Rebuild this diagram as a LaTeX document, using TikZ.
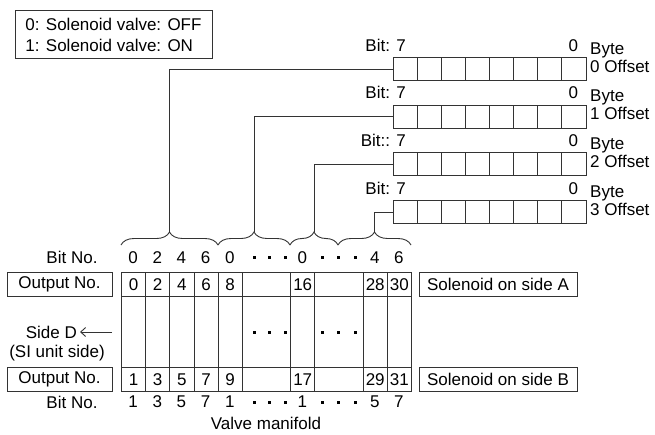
\documentclass[tikz,border=0pt]{standalone}
\usepackage{fontspec}
\setmainfont{Liberation Sans}
\usetikzlibrary{decorations.pathreplacing,arrows.meta}
\begin{document}
\begin{tikzpicture}[x=1pt,y=-1pt,
  font=\fontsize{17}{21}\selectfont,
  ln/.style={draw=black!80, line width=0.9pt},
  cell/.style={ln, minimum width=24.125pt, minimum height=23pt, inner sep=0pt, anchor=north west},
  gcell/.style={ln, minimum width=24.167pt, minimum height=24pt, inner sep=0pt, anchor=north west},
  txt/.style={inner sep=0pt},
  btxt/.style={inner sep=0pt, anchor=base},
  lbox/.style={ln, inner sep=0pt, minimum height=24pt},
  dotsq/.style={fill=black, minimum size=3pt, inner sep=0pt},
  brc/.style={ln, decorate, decoration={brace, amplitude=13pt}},
]
\useasboundingbox (0,0) rectangle (655,434);

% legend
\node[ln, minimum width=197pt, minimum height=48pt, align=left, inner sep=0pt] (legend) at (113.5,34.5)
  {0: Solenoid valve: OFF\\1: Solenoid valve: ON};

% byte registers
\foreach \k in {0,...,3} {
  \pgfmathsetmacro\yt{57+47.7*\k}
  \foreach \c in {0,...,7} {
    \node[cell] (r\k c\c) at ({392.5+24.125*\c},\yt) {};
  }
  \ifnum\k=2
    \node[btxt, anchor=base east] (bit\k) at (406,\yt-6) {Bit:: 7};
  \else
    \node[btxt, anchor=base east] (bit\k) at (406,\yt-6) {Bit: 7};
  \fi
  \node[btxt] (zero\k) at (573.4,\yt-6) {0};
  \node[btxt, anchor=base west] (byte\k) at (590,\yt-3) {Byte};
  \node[btxt, anchor=base west] (off\k) at (590,\yt+15) {\k\ Offset};
}

% brace ends and tips
\coordinate (e0) at (121,245);
\coordinate (e1) at (218,245);
\coordinate (e2) at (290,245);
\coordinate (e3) at (338,245);
\coordinate (e4) at (411,245);
\coordinate (t0) at (169.5,232);
\coordinate (t1) at (254,232);
\coordinate (t2) at (314,232);
\coordinate (t3) at (374.5,232);
\draw[brc] (e0) -- (e1);
\draw[brc] (e1) -- (e2);
\draw[brc] (e2) -- (e3);
\draw[brc] (e3) -- (e4);

% connectors
\draw[ln] (r0c0.west) -| (t0);
\draw[ln] (r1c0.west) -| (t1);
\draw[ln] (r2c0.west) -| (t2);
\draw[ln] (r3c0.west) -| (t3);

% main grid
\foreach \i/\ta/\tb in {0/0/1,1/2/3,2/4/5,3/6/7,4/8/9,7/16/17,10/28/29,11/30/31} {
  \node[gcell] (a\i) at ({121+24.167*\i},272) {\ta};
  \node[gcell, minimum height=71pt] (m\i) at ({121+24.167*\i},296) {};
  \node[gcell] (b\i) at ({121+24.167*\i},367) {\tb};
}
\foreach \i in {5,8} {
  \node[gcell, minimum width=48.333pt] (a\i) at ({121+24.167*\i},272) {};
  \node[gcell, minimum width=48.333pt, minimum height=71pt] (m\i) at ({121+24.167*\i},296) {};
  \node[gcell, minimum width=48.333pt] (b\i) at ({121+24.167*\i},367) {};
}

% dots
\foreach \x [count=\n] in {254,269.5,285,322,338.5,355} {
  \node[dotsq] (dt\n) at (\x,257.5) {};
  \node[dotsq] (dm\n) at (\x,332) {};
  \node[dotsq] (db\n) at (\x,402) {};
}

% bit numbers
\node[txt] (bitA) at (72,257.5) {Bit No.};
\node[txt] (bitB) at (72,402) {Bit No.};
\foreach \i/\ta/\tb in {0/0/1,1/2/3,2/4/5,3/6/7,4/0/1,7/0/1,10/4/5,11/6/7} {
  \node[txt] (ta\i) at ({121+24.167*(\i+0.5)},257.5) {\ta};
  \node[txt] (tb\i) at ({121+24.167*(\i+0.5)},402) {\tb};
}

% side labels
\node[lbox, minimum width=105pt] (outA) at (59.5,284) {Output No.};
\node[lbox, minimum width=105pt] (outB) at (59.5,379) {Output No.};
\node[lbox, minimum width=158pt] (solA) at (498,284) {Solenoid on side A};
\node[lbox, minimum width=158pt] (solB) at (498,379) {Solenoid on side B};

\node[txt, anchor=east] (sideD) at (77,332) {Side D};
\coordinate (arrS) at (112,332);
\draw[ln, shorten >=3pt, -{Straight Barb[length=5pt,width=9pt]}] (arrS) -- (sideD.east);
\node[btxt] (siunit) at (57,357) {(SI unit side)};

\node[btxt] (valve) at (266,429) {Valve manifold};
\end{tikzpicture}
\end{document}
